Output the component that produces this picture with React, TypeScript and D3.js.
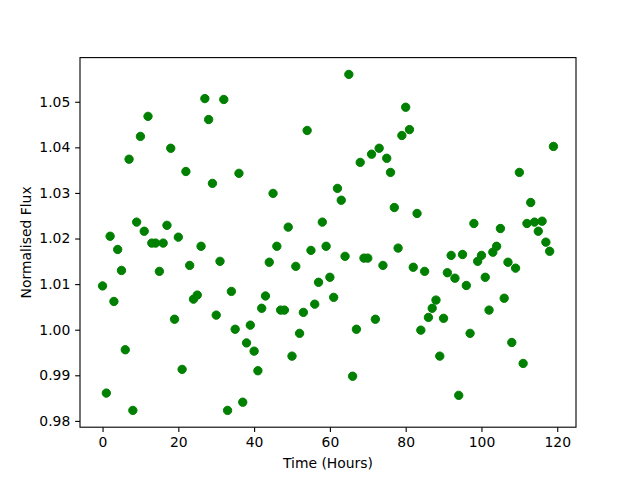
import { useEffect, useRef } from "react";
import * as d3 from "d3";

// time of each sample (hours)
const hours = [
  0, 1, 2, 3, 4, 5, 6, 7, 8, 9, 10, 11, 12, 13, 14, 15, 16, 17, 18, 19,
  20, 21, 22, 23, 24, 25, 26, 27, 28, 29, 30, 31, 32, 33, 34, 35, 36, 37, 38, 39,
  40, 41, 42, 43, 44, 45, 46, 47, 48, 49, 50, 51, 52, 53, 54, 55, 56, 57, 58, 59,
  60, 61, 62, 63, 64, 65, 66, 67, 68, 69, 70, 71, 72, 73, 74, 75, 76, 77, 78, 79,
  80, 81, 82, 83, 84, 85, 86, 87, 88, 89, 90, 91, 92, 93, 94, 95, 96, 97, 98, 99,
  100, 101, 102, 103, 104, 105, 106, 107, 108, 109, 110, 111, 112, 113, 114, 115, 116, 117, 118, 119,
];

// normalised flux
const flux = [
  1.0096, 0.9861, 1.0205, 1.0062, 1.0176, 1.013, 0.9956, 1.0374, 0.9823, 1.0236,
  1.0424, 1.0216, 1.0468, 1.019, 1.019, 1.0128, 1.019, 1.0229, 1.0398, 1.0023,
  1.0203, 0.9913, 1.0347, 1.0141, 1.0067, 1.0076, 1.0183, 1.0507, 1.0461, 1.0321,
  1.0032, 1.015, 1.0505, 0.9823, 1.0084, 1.0001, 1.0343, 0.9841, 0.9971, 1.001,
  0.9953, 0.991, 1.0047, 1.0074, 1.0148, 1.0299, 1.0183, 1.0043, 1.0043, 1.0225,
  0.9942, 1.0139, 0.9992, 1.0038, 1.0437, 1.0174, 1.0056, 1.0104, 1.0236, 1.0183,
  1.0115, 1.0071, 1.031, 1.0284, 1.0161, 1.056, 0.9898, 1.0001, 1.0367, 1.0157,
  1.0157, 1.0385, 1.0023, 1.0398, 1.0141, 1.0376, 1.0345, 1.0268, 1.0179, 1.0426,
  1.0488, 1.0439, 1.0137, 1.0255, 0.9999, 1.0128, 1.0027, 1.0047, 1.0065, 0.9942,
  1.0025, 1.0125, 1.0163, 1.0113, 0.9856, 1.0165, 1.0097, 0.9992, 1.0233, 1.015,
  1.0163, 1.0115, 1.0043, 1.017, 1.0183, 1.0222, 1.0069, 1.0148, 0.9972, 1.0135,
  1.0345, 0.9926, 1.0233, 1.0279, 1.0236, 1.0216, 1.0238, 1.0192, 1.0172, 1.0402,
];

const xTicks = [0, 20, 40, 60, 80, 100, 120];
const yTicks = [0.98, 0.99, 1.0, 1.01, 1.02, 1.03, 1.04, 1.05];

function App() {
  const svgRef = useRef<SVGSVGElement | null>(null);

  useEffect(() => {
    if (!svgRef.current) return;
    const width = 640;
    const height = 480;
    const margin = { top: 57.6, right: 64, bottom: 52.8, left: 80 };
    const font = "DejaVu Sans, sans-serif";
    const fs = 13.9;
    const tickLen = 4.86;

    const svg = d3.select(svgRef.current);
    svg.selectAll("*").remove();
    svg.append("rect").attr("width", width).attr("height", height).attr("fill", "#fff");

    // matplotlib style 5% margins
    const xExt = d3.extent(hours) as [number, number];
    const yExt = d3.extent(flux) as [number, number];
    const xPad = (xExt[1] - xExt[0]) * 0.05;
    const yPad = (yExt[1] - yExt[0]) * 0.05;

    const x = d3
      .scaleLinear()
      .domain([xExt[0] - xPad, xExt[1] + xPad])
      .range([margin.left, width - margin.right]);
    const y = d3
      .scaleLinear()
      .domain([yExt[0] - yPad, yExt[1] + yPad])
      .range([height - margin.bottom, margin.top]);

    const data = hours.map((h, i) => ({ h, f: flux[i] }));

    svg
      .append("g")
      .selectAll("circle")
      .data(data)
      .enter()
      .append("circle")
      .attr("cx", (d) => x(d.h))
      .attr("cy", (d) => y(d.f))
      .attr("r", 4.17)
      .attr("fill", "#008000")
      .attr("stroke", "#008000")
      .attr("stroke-width", 1);

    // frame
    svg
      .append("rect")
      .attr("x", margin.left)
      .attr("y", margin.top)
      .attr("width", width - margin.left - margin.right)
      .attr("height", height - margin.top - margin.bottom)
      .attr("fill", "none")
      .attr("stroke", "#000")
      .attr("stroke-width", 1.1);

    const xAxis = d3
      .axisBottom(x)
      .tickValues(xTicks)
      .tickSize(tickLen)
      .tickPadding(4.86)
      .tickFormat(d3.format("d"));
    const gx = svg
      .append("g")
      .attr("transform", `translate(0,${height - margin.bottom})`)
      .call(xAxis);
    gx.select(".domain").remove();

    const yAxis = d3
      .axisLeft(y)
      .tickValues(yTicks)
      .tickSize(tickLen)
      .tickPadding(4.86)
      .tickFormat(d3.format(".2f"));
    const gy = svg.append("g").attr("transform", `translate(${margin.left},0)`).call(yAxis);
    gy.select(".domain").remove();

    svg
      .selectAll(".tick line")
      .attr("stroke", "#000")
      .attr("stroke-width", 1.1);
    svg
      .selectAll(".tick text")
      .attr("fill", "#000")
      .style("font-family", font)
      .style("font-size", `${fs}px`);

    svg
      .append("text")
      .attr("x", (margin.left + width - margin.right) / 2)
      .attr("y", 468)
      .attr("text-anchor", "middle")
      .style("font-family", font)
      .style("font-size", `${fs}px`)
      .text("Time (Hours)");

    svg
      .append("text")
      .attr("transform", `translate(31,${(margin.top + height - margin.bottom) / 2}) rotate(-90)`)
      .attr("text-anchor", "middle")
      .style("font-family", font)
      .style("font-size", `${fs}px`)
      .text("Normalised Flux");

    return () => {
      d3.select(svgRef.current).selectAll("*").remove();
    };
  }, []);

  return (
    <svg
      ref={svgRef}
      width={640}
      height={480}
      style={{ position: "absolute", left: 0, top: 0 }}
    ></svg>
  );
}

export default App;
